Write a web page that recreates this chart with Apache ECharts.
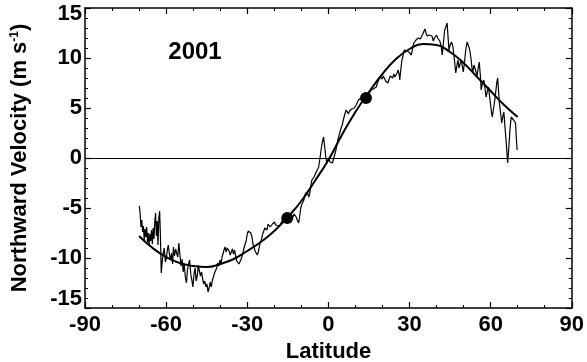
<!DOCTYPE html>
<html>
<head>
<meta charset="utf-8">
<script src="https://cdn.jsdelivr.net/npm/echarts@6/dist/echarts.min.js"></script>
<style>
html,body{margin:0;padding:0;background:#fff;}
#c{width:587px;height:362px;}
</style>
</head>
<body>
<div id="c"></div>
<script>
// ---- data ----
var xTicks = [-90, -60, -30, 0, 30, 60, 90];
var yTicks = [-15, -10, -5, 0, 5, 10, 15];
var yearLabel = '2001';

var noisyLat = [
-69.9,-69.6,-69.3,-69.0,-68.7,-68.4,-68.1,-67.8,-67.5,-67.2,-66.9,-66.6,-66.3,-66.0,-65.7,-65.4,-65.1,-64.8,-64.5,-64.2,
-63.9,-63.6,-63.3,-63.0,-62.7,-62.4,-62.1,-61.8,-61.4,-61.0,-60.7,-60.3,-59.9,-59.5,-59.2,-58.8,-58.4,-58.0,-57.6,-57.3,
-56.9,-56.5,-56.1,-55.7,-55.3,-54.9,-54.5,-54.1,-53.7,-53.3,-52.9,-52.5,-52.1,-51.7,-51.3,-50.9,-50.5,-50.1,-49.7,-49.3,
-48.9,-48.5,-48.1,-47.7,-47.3,-46.9,-46.5,-46.1,-45.7,-45.3,-44.9,-44.5,-44.1,-43.7,-43.3,-42.9,-42.5,-42.1,-41.7,-41.3,
-40.9,-40.5,-40.1,-39.7,-39.3,-38.9,-38.6,-38.2,-37.8,-37.4,-37.1,-36.7,-36.3,-35.9,-35.5,-35.1,-34.7,-34.3,-33.9,-33.5,
-33.1,-32.8,-32.4,-32.0,-31.6,-31.2,-30.8,-30.4,-30.0,-29.6,-29.1,-28.7,-28.3,-27.9,-27.5,-27.1,-26.7,-26.3,-25.9,-25.5,
-25.1,-24.7,-24.3,-23.9,-23.5,-23.1,-22.7,-22.3,-21.9,-21.5,-21.1,-20.7,-20.3,-19.9,-19.5,-19.0,-18.6,-18.2,-17.8,-17.4,
-17.0,-16.5,-16.0,-15.6,-15.2,-14.8,-14.3,-13.9,-13.5,-13.1,-12.7,-12.3,-11.9,-11.5,-11.0,-10.6,-10.2,-9.8,-9.2,-8.8,
-8.4,-8.0,-7.6,-7.2,-6.8,-6.4,-6.1,-5.7,-5.3,-4.9,-4.5,-4.1,-3.6,-3.2,-2.7,-2.3,-1.8,-1.4,-1.0,-0.6,
-0.2,0.2,0.6,1.0,1.5,1.9,2.3,2.8,3.2,3.5,3.9,4.3,4.7,5.1,5.4,5.8,6.2,6.6,7.0,7.4,
7.8,8.2,8.6,9.1,9.5,9.9,10.3,10.7,11.1,11.6,12.1,12.6,13.1,13.6,14.1,14.6,15.0,15.4,15.8,16.2,
16.6,17.1,17.7,18.1,18.6,19.0,19.5,19.9,20.3,20.8,21.2,21.6,22.0,22.5,22.9,23.3,23.8,24.2,24.6,25.0,
25.4,25.8,26.2,26.4,26.8,27.2,27.6,28.0,28.5,28.9,29.3,29.8,30.2,30.7,31.1,31.6,32.0,32.4,32.8,33.2,
33.6,34.0,34.5,34.9,35.3,35.7,36.1,36.5,36.9,37.3,37.6,37.9,38.3,38.8,39.2,39.6,40.0,40.4,40.8,41.2,
41.7,42.1,42.5,43.0,43.4,43.9,44.2,44.6,45.0,45.5,46.0,46.5,47.1,47.5,47.9,48.3,48.7,49.1,49.5,49.9,
50.3,50.8,51.3,51.7,52.1,52.5,52.8,53.1,53.4,53.8,54.2,54.6,55.0,55.4,55.8,56.2,56.5,57.0,57.5,57.9,
58.3,58.8,59.2,59.6,60.0,60.3,60.6,61.1,61.6,62.0,62.3,62.6,62.9,63.2,63.6,64.1,64.5,64.9,65.3,65.7,
66.0,66.3,66.6,66.9,67.2,67.6,68.0,68.5,68.9,69.2,69.5,69.8
];
var noisyV = [
-4.8,-5.6,-6.9,-6.2,-7.4,-6.8,-8.2,-7.1,-7.9,-6.9,-8.4,-7.5,-8.8,-7.6,-8.3,-7.2,-8.6,-7.0,-8.1,-6.4,
-5.5,-7.8,-6.3,-8.7,-6.0,-5.3,-7.9,-11.5,-10.2,-9.4,-9.0,-10.4,-10.0,-9.1,-8.7,-9.6,-10.2,-9.5,-10.6,-8.9,
-9.8,-9.1,-9.0,-9.9,-8.5,-9.7,-10.8,-10.1,-11.4,-10.6,-11.9,-12.5,-11.2,-10.6,-10.2,-11.6,-12.2,-12.9,-11.6,-11.0,
-12.3,-11.8,-10.7,-11.3,-11.8,-11.4,-12.1,-12.6,-12.3,-12.9,-12.6,-13.4,-13.0,-12.4,-12.9,-12.2,-11.9,-11.5,-11.7,-11.0,
-10.5,-10.8,-10.2,-10.6,-9.9,-9.5,-9.2,-8.9,-9.4,-9.0,-8.8,-9.3,-9.7,-9.5,-9.1,-9.6,-9.2,-9.8,-10.3,-10.1,
-10.6,-10.8,-10.2,-9.9,-9.5,-9.0,-8.6,-8.3,-7.6,-7.3,-7.1,-7.5,-7.8,-8.6,-8.9,-9.3,-9.5,-9.7,-9.4,-8.8,
-8.4,-8.1,-7.6,-7.3,-7.0,-6.8,-7.2,-6.6,-6.5,-6.9,-7.0,-6.6,-6.8,-6.4,-6.7,-6.5,-6.8,-7.0,-6.7,-6.5,
-6.2,-6.4,-6.0,-6.3,-6.1,-6.4,-6.2,-6.0,-5.8,-5.9,-5.6,-5.5,-5.9,-6.2,-6.5,-5.8,-5.0,-4.6,-4.3,-3.9,
-3.5,-3.3,-3.6,-3.9,-3.4,-2.6,-2.2,-2.0,-1.9,-1.7,-1.4,-1.2,-0.9,-0.2,0.8,1.5,2.1,1.2,0.2,-0.5,
-0.3,0.0,-0.4,-0.2,-0.5,-0.1,0.1,0.8,1.4,1.8,2.2,2.6,3.0,3.3,3.5,4.1,4.5,4.8,4.6,4.4,
4.7,4.5,4.9,4.8,5.0,5.2,5.3,5.5,5.8,5.9,6.0,5.8,6.1,5.9,6.2,6.1,6.4,6.6,6.8,6.6,
6.9,6.8,7.1,7.5,7.8,8.1,8.3,7.9,8.2,8.0,7.7,7.6,7.5,7.9,8.2,8.3,8.0,8.4,8.1,7.9,
8.5,8.8,8.3,7.8,8.9,9.8,10.2,10.8,11.0,10.7,10.5,10.6,10.4,10.3,10.9,11.5,11.5,11.8,11.6,12.0,
12.2,11.9,12.1,12.4,12.6,12.9,12.5,12.2,12.0,12.3,12.1,12.5,12.2,11.7,12.0,12.1,12.3,12.0,11.8,11.7,
11.2,10.3,11.4,12.8,13.1,13.5,12.3,10.8,11.3,11.6,11.2,10.1,8.5,9.2,9.8,9.0,9.4,9.8,9.2,8.6,
9.5,10.8,11.6,11.8,11.0,10.4,9.8,9.0,8.5,9.3,9.0,8.6,8.2,9.0,9.6,8.2,6.8,7.5,7.8,7.0,
6.1,6.7,7.1,6.2,5.3,4.6,4.1,5.0,5.9,6.9,7.6,8.0,6.8,5.6,4.7,3.5,4.1,4.6,3.1,1.8,
0.6,-0.5,0.6,1.8,3.0,4.1,3.9,3.8,3.6,3.5,2.0,0.8
];

var smoothLat = [-70,-65,-60,-55,-50,-45,-40,-35,-30,-25,-20,-15,-10,-5,0,5,10,15,20,25,30,35,40,45,50,55,60,65,70];
var smoothV   = [-7.8,-9.0,-9.9,-10.5,-10.8,-10.9,-10.6,-10.1,-9.3,-8.4,-7.3,-5.9,-4.3,-2.3,-0.2,2.3,4.6,6.6,8.4,9.9,10.9,11.4,11.3,10.6,9.5,8.1,6.7,5.3,4.1];

var dotLat = [-15.2, 13.9];
var dotV   = [-6.0, 6.0];

// ---- build ----
function pairs(a, b){ var r=[]; for(var i=0;i<a.length;i++) r.push([a[i], b[i]]); return r; }

var FONT = '"Liberation Sans", Arial, Helvetica, sans-serif';
var chart = echarts.init(document.getElementById('c'), null, {renderer:'canvas'});

function xAx(pos, labels){
  return {
    type:'value', position:pos, min:xTicks[0], max:xTicks[xTicks.length-1],
    interval: xTicks[1]-xTicks[0],
    axisLine:{show:true, onZero:false, lineStyle:{color:'#000', width:1.5}},
    axisTick:{show:true, inside:true, length:6, lineStyle:{color:'#000', width:1.2}},
    minorTick:{show:true, splitNumber:3, length:3, lineStyle:{color:'#000', width:1}},
    splitLine:{show:false},
    axisLabel:{show:labels, color:'#000', fontSize:22, fontWeight:'bold', fontFamily:FONT, margin:6}
  };
}
function yAx(pos, labels){
  return {
    type:'value', position:pos, min:yTicks[0], max:yTicks[yTicks.length-1],
    interval: yTicks[1]-yTicks[0],
    axisLine:{show:true, onZero:false, lineStyle:{color:'#000', width:1.5}},
    axisTick:{show:true, inside:true, length:6, lineStyle:{color:'#000', width:1.2}},
    minorTick:{show:true, splitNumber:5, length:3, lineStyle:{color:'#000', width:1}},
    splitLine:{show:false},
    axisLabel:{show:labels, color:'#000', fontSize:22, fontWeight:'bold', fontFamily:FONT, margin:3,
      formatter:function(v){
        if (v === yTicks[yTicks.length-1]) return '{top|' + v + '}';
        if (v === yTicks[0]) return '{bot|' + v + '}';
        return '{n|' + v + '}';
      },
      rich:{
        n:{fontSize:22, fontWeight:'bold', fontFamily:FONT, color:'#000'},
        top:{fontSize:22, fontWeight:'bold', fontFamily:FONT, color:'#000', padding:[12,0,0,0]},
        bot:{fontSize:22, fontWeight:'bold', fontFamily:FONT, color:'#000', padding:[0,0,18,0]}
      }
    }
  };
}

chart.setOption({
  animation:false,
  backgroundColor:'#fff',
  grid:{left:85, right:15, top:8, bottom:54, containLabel:false},
  xAxis:[xAx('bottom', true), xAx('top', false)],
  yAxis:[yAx('left', true), yAx('right', false)],
  series:[
    {type:'line', data:pairs(noisyLat, noisyV), showSymbol:false, symbol:'none',
     lineStyle:{color:'#000', width:1.2}, z:2,
     markLine:{silent:true, symbol:['none','none'], label:{show:false},
       lineStyle:{color:'#000', width:1, type:'solid'}, data:[{yAxis:0}]}},
    {type:'line', data:pairs(smoothLat, smoothV), smooth:true, showSymbol:false, symbol:'none',
     lineStyle:{color:'#000', width:2}, z:3},
    {type:'scatter', data:pairs(dotLat, dotV), symbol:'circle', symbolSize:12,
     itemStyle:{color:'#000', opacity:1}, z:4}
  ],
  graphic:[
    {type:'text', x:195, y:52, style:{text:yearLabel, fontSize:24, fontWeight:'bold', fontFamily:FONT, fill:'#000', align:'center', verticalAlign:'middle'}},
    {type:'text', x:328.5, y:352, style:{text:'Latitude', fontSize:22, fontWeight:'bold', fontFamily:FONT, fill:'#000', align:'center', verticalAlign:'middle'}},
    {type:'text', x:20, y:158, rotation:Math.PI/2,
     style:{text:'{a|Northward Velocity (m s}{s|-1}{a|)}', align:'center', verticalAlign:'middle',
       rich:{
         a:{fontSize:22, fontWeight:'bold', fontFamily:FONT, fill:'#000'},
         s:{fontSize:12, fontWeight:'bold', fontFamily:FONT, fill:'#000', verticalAlign:'top'}
       }}}
  ]
});
</script>
</body>
</html>
